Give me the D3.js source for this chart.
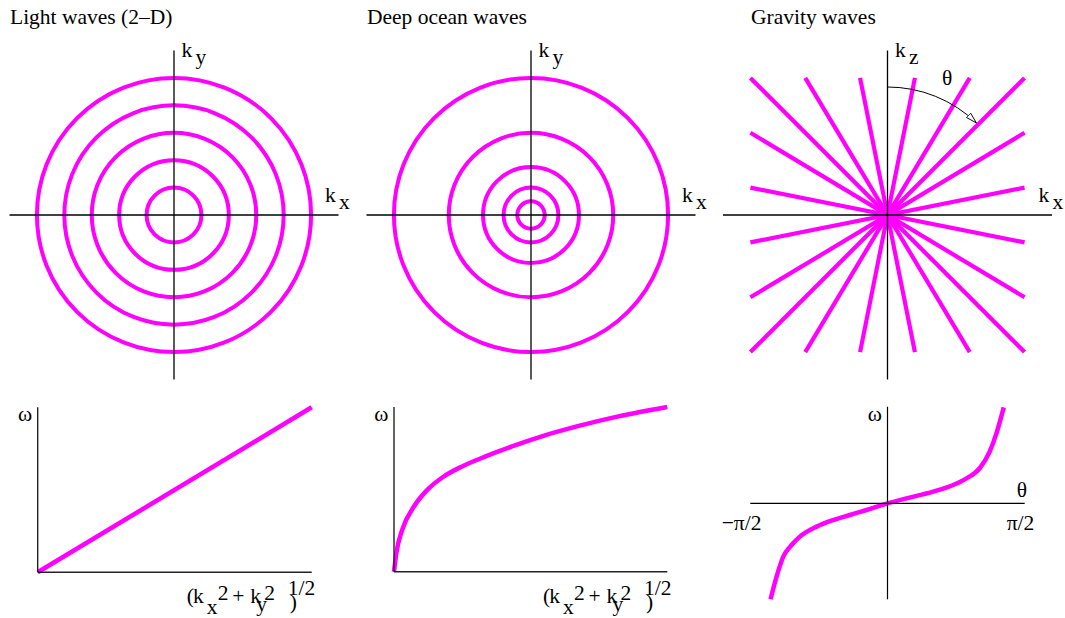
<!DOCTYPE html>
<html>
<head>
<meta charset="utf-8">
<script src="https://cdn.jsdelivr.net/npm/d3@7"></script>
<style>
  html, body { margin: 0; padding: 0; background: #fff; }
  svg { display: block; }
  text { font-family: "Liberation Serif", "Times New Roman", Times, serif; font-size: 21.5px; fill: #000; }
</style>
</head>
<body>
<svg id="chart" width="1065" height="618"></svg>
<script>
// ---- data ----
const panelTitles = ["Light waves (2\u2013D)", "Deep ocean waves", "Gravity waves"];

// contour radii in wavenumber space (equal-frequency circles)
const lightRadii = [1, 2, 3, 4, 5];
const oceanRadii = [0.5, 1, 1.75, 3, 5];

// gravity-wave rays: direction (kx, kz); each is drawn through the origin
const gravityRays = [
  [-5, 5], [-3, 5], [-1, 5], [1, 5], [3, 5], [5, 5],
  [5, 3], [5, 1], [5, -1], [5, -3]
];

// dispersion relations (normalised wavenumber -> normalised frequency)
const lightK = [0, 1];
const lightW = [0, 1];

const oceanK = [0, 0.0085, 0.030, 0.073, 0.122, 0.182, 0.249, 0.335, 0.432, 0.541, 0.669, 0.821, 1.0];
const oceanW = [0, 0.112, 0.254, 0.396, 0.497, 0.578, 0.639, 0.700, 0.761, 0.822, 0.882, 0.943, 1.0];

// gravity waves: frequency vs propagation angle theta (radians)
const gravTheta = [-1.339, -1.270, -1.193, -1.098, -1.003, -0.812, -0.621, -0.431, -0.240, 0,
                   0.217, 0.523, 0.752, 0.904, 1.056, 1.170, 1.247, 1.331];
const gravW = [-1.0, -0.764, -0.555, -0.434, -0.347, -0.243, -0.174, -0.122, -0.070, 0,
               0.052, 0.122, 0.191, 0.260, 0.365, 0.538, 0.729, 1.0];

const thetaTicks = [-Math.PI / 2, Math.PI / 2];
const thetaTickLabels = ["\u2212\u03c0/2", "\u03c0/2"];

// ---- drawing ----
const svg = d3.select("#chart");
const MAGENTA = "#ff00ff";

// titles
const titleX = [10, 367, 751];
svg.selectAll("text.title").data(panelTitles).join("text")
  .attr("class", "title")
  .attr("x", (d, i) => titleX[i]).attr("y", 24)
  .text(d => d);

// label with a lowered subscript
function subLabel(g, x, y, main, sub, gap) {
  g.append("text").attr("x", x).attr("y", y).text(main);
  g.append("text").attr("x", x + 11 + (gap || 3)).attr("y", y + 6.6).text(sub);
}

// ---- top row: wavenumber-space pictures ----
const topCenters = [[174, 215], [531, 215], [887.5, 215]];
const half = 164.5;

function kScales(c) {
  return {
    x: d3.scaleLinear().domain([-6, 6]).range([c[0] - half, c[0] + half]),
    y: d3.scaleLinear().domain([-6, 6]).range([c[1] + half, c[1] - half])
  };
}

function kAxes(g, s, vLabel) {
  g.append("line")
    .attr("x1", s.x(-6)).attr("x2", s.x(6))
    .attr("y1", s.y(0)).attr("y2", s.y(0))
    .attr("stroke", "#000").attr("stroke-width", 1.3);
  g.append("line")
    .attr("x1", s.x(0)).attr("x2", s.x(0))
    .attr("y1", s.y(6)).attr("y2", s.y(-6))
    .attr("stroke", "#000").attr("stroke-width", 1.3);
  subLabel(g, s.x(0) + 7.5, 57, "k", vLabel);
  subLabel(g, s.x(0) + 151, 202, "k", "x");
}

function rings(g, s, radii) {
  g.selectAll("circle").data(radii).join("circle")
    .attr("cx", s.x(0)).attr("cy", s.y(0))
    .attr("r", d => s.x(d) - s.x(0))
    .attr("fill", "none")
    .attr("stroke", MAGENTA).attr("stroke-width", 4);
}

// Light waves
{
  const g = svg.append("g");
  const s = kScales(topCenters[0]);
  rings(g, s, lightRadii);
  kAxes(g, s, "y");
}
// Deep ocean waves
{
  const g = svg.append("g");
  const s = kScales(topCenters[1]);
  rings(g, s, oceanRadii);
  kAxes(g, s, "y");
}
// Gravity waves
{
  const g = svg.append("g");
  const s = kScales(topCenters[2]);
  g.selectAll("line.ray").data(gravityRays).join("line")
    .attr("class", "ray")
    .attr("x1", d => s.x(-d[0])).attr("y1", d => s.y(-d[1]))
    .attr("x2", d => s.x(d[0])).attr("y2", d => s.y(d[1]))
    .attr("stroke", MAGENTA).attr("stroke-width", 4.2);
  kAxes(g, s, "z");

  // angle theta measured clockwise from the kz axis
  const defs = svg.append("defs");
  defs.append("marker")
    .attr("id", "hollowArrow")
    .attr("viewBox", "0 0 12 8")
    .attr("refX", 11.5).attr("refY", 4)
    .attr("markerWidth", 12).attr("markerHeight", 8)
    .attr("markerUnits", "userSpaceOnUse")
    .attr("orient", "auto")
    .append("path")
    .attr("d", "M0.5,1 L11.5,4 L0.5,7 Z")
    .attr("fill", "#fff").attr("stroke", "#000").attr("stroke-width", 0.9);

  const cx = s.x(0), cy = s.y(0), r = 128;
  const endAngle = 44 * Math.PI / 180;
  const p = d3.path();
  p.arc(cx, cy, r, -Math.PI / 2, -Math.PI / 2 + endAngle);
  g.append("path")
    .attr("d", p.toString())
    .attr("fill", "none").attr("stroke", "#000").attr("stroke-width", 1)
    .attr("marker-end", "url(#hollowArrow)");
  g.append("text").attr("x", cx + 54.5).attr("y", 85).text("\u03b8");
}

// ---- bottom row: dispersion curves ----
function kLabel(g, ox) {
  const parts = [
    ["(", 149, 603], ["k", 155.3, 603], ["x", 169, 614], ["2", 180, 600],
    ["+", 194.5, 603], ["k", 212.5, 603], ["y", 218.5, 611], ["2", 226.5, 600],
    [")", 252, 609], ["1/2", 250, 595]
  ];
  g.selectAll("text.kl").data(parts).join("text")
    .attr("class", "kl")
    .attr("x", d => ox + d[1]).attr("y", d => d[2])
    .text(d => d[0]);
}

function dispersion(g, x, y, K, W, curve) {
  const pts = K.map((k, i) => [k, W[i]]);
  g.append("path")
    .attr("d", d3.line().x(d => x(d[0])).y(d => y(d[1])).curve(curve)(pts))
    .attr("fill", "none").attr("stroke", MAGENTA).attr("stroke-width", 4.5);
}

function quadrantAxes(g, x, y) {
  g.append("line").attr("x1", x(0)).attr("x2", x(1)).attr("y1", y(0)).attr("y2", y(0))
    .attr("stroke", "#222").attr("stroke-width", 1.4);
  g.append("line").attr("x1", x(0)).attr("x2", x(0)).attr("y1", y(0)).attr("y2", y(1))
    .attr("stroke", "#222").attr("stroke-width", 1.4);
  g.append("text").attr("x", x(0) - 5.5).attr("y", 421).attr("text-anchor", "end").text("\u03c9");
}

// Light: omega proportional to |k|
{
  const g = svg.append("g");
  const x = d3.scaleLinear().domain([0, 1]).range([37.7, 311.7]);
  const y = d3.scaleLinear().domain([0, 1]).range([572.3, 407.3]);
  dispersion(g, x, y, lightK, lightW, d3.curveLinear);
  quadrantAxes(g, x, y);
  kLabel(g, x(0));
}
// Deep ocean
{
  const g = svg.append("g");
  const x = d3.scaleLinear().domain([0, 1]).range([394, 667.3]);
  const y = d3.scaleLinear().domain([0, 1]).range([571.7, 407]);
  dispersion(g, x, y, oceanK, oceanW, d3.curveMonotoneX);
  quadrantAxes(g, x, y);
  kLabel(g, x(0));
}
// Gravity waves: omega vs theta
{
  const g = svg.append("g");
  const x = d3.scaleLinear().domain([-Math.PI / 2, Math.PI / 2]).range([750.3, 1024.7]);
  const y = d3.scaleLinear().domain([-1, 1]).range([599.3, 407.3]);
  dispersion(g, x, y, gravTheta, gravW, d3.curveMonotoneX);
  g.append("line").attr("x1", x(-Math.PI / 2)).attr("x2", x(Math.PI / 2)).attr("y1", y(0)).attr("y2", y(0))
    .attr("stroke", "#000").attr("stroke-width", 1.2);
  g.append("line").attr("x1", x(0)).attr("x2", x(0)).attr("y1", y(-1)).attr("y2", y(1.006))
    .attr("stroke", "#000").attr("stroke-width", 1.2);
  g.append("text").attr("x", x(0) - 5.5).attr("y", 421).attr("text-anchor", "end").text("\u03c9");
  g.append("text").attr("x", x(Math.PI / 2) - 8).attr("y", 497).text("\u03b8");
  const offs = [-28.6, -18];
  g.selectAll("text.tick").data(thetaTicks).join("text")
    .attr("class", "tick")
    .attr("x", (d, i) => x(d) + offs[i]).attr("y", 530)
    .text((d, i) => thetaTickLabels[i]);
}
</script>
</body>
</html>
